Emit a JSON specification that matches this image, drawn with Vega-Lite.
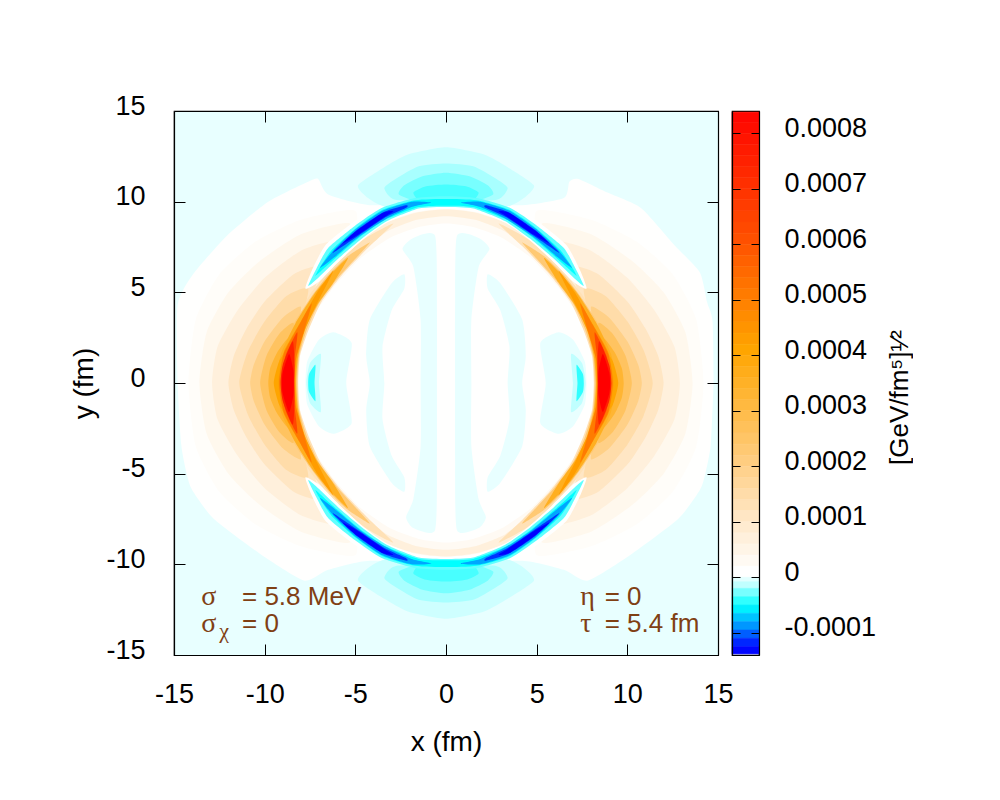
{
"$schema":"https://vega.github.io/schema/vega-lite/v6.json",
"background":"white",
"padding":{"left":69,"top":91,"right":0,"bottom":0},
"bounds":"flush",
"spacing":14,
"config":{"font":"Liberation Sans","view":{"stroke":"black","strokeWidth":1.2},"axis":{"grid":false,"labelFont":"Liberation Sans","titleFont":"Liberation Sans","labelColor":"black","titleColor":"black","titleFontWeight":"normal","domainColor":"black","tickColor":"black"}},
"datasets":{
"levels":[{"c":1,"v":0.000002},{"c":2,"v":-0.000006},{"c":3,"v":-0.000006},{"c":4,"v":-0.000006},{"c":5,"v":-0.000006},{"c":6,"v":-0.000006},{"c":7,"v":-0.000006},{"c":8,"v":-0.00002},{"c":9,"v":-0.00002},{"c":10,"v":-0.00005},{"c":11,"v":-0.00005},
{"c":12,"v":0.00001},{"c":13,"v":0.00001},{"c":14,"v":0.00002},{"c":15,"v":0.00002},{"c":16,"v":0.00003},{"c":17,"v":0.00003},{"c":18,"v":0.00006},{"c":19,"v":0.00006},{"c":20,"v":0.00006},{"c":21,"v":0.00006},{"c":22,"v":0.0001},{"c":23,"v":0.0001},{"c":24,"v":0.00012},{"c":25,"v":0.00012},{"c":26,"v":0.00014},{"c":27,"v":0.00014},{"c":28,"v":0.00019},{"c":29,"v":0.00019},{"c":30,"v":0.00022},{"c":31,"v":0.00022},{"c":32,"v":0.00025},{"c":33,"v":0.00025},{"c":34,"v":0.00032},{"c":35,"v":0.00032},{"c":36,"v":0.00035},{"c":37,"v":0.00035},{"c":38,"v":0.0004},{"c":39,"v":0.0004},{"c":40,"v":0.00042},{"c":41,"v":0.00042},{"c":42,"v":0.0005},{"c":43,"v":0.0005},{"c":44,"v":0.00062},{"c":45,"v":0.00062},{"c":46,"v":0.00074},{"c":47,"v":0.00074},{"c":48,"v":0.00084},{"c":49,"v":0.00084},
{"c":50,"v":0},{"c":51,"v":0},{"c":52,"v":-0.000015},{"c":53,"v":-0.000015},{"c":54,"v":-0.000025},{"c":55,"v":-0.000025},{"c":56,"v":-0.000035},{"c":57,"v":-0.000035},{"c":58,"v":-0.000045},{"c":59,"v":-0.000045},{"c":60,"v":-0.00004},{"c":61,"v":-0.00004},{"c":62,"v":-0.00006},{"c":63,"v":-0.00006},{"c":64,"v":-0.00009},{"c":65,"v":-0.00009},{"c":66,"v":-0.00009},{"c":67,"v":-0.00009},{"c":68,"v":-0.00012},{"c":69,"v":-0.00012},{"c":70,"v":-0.00012},{"c":71,"v":-0.00012},{"c":72,"v":-0.00014},{"c":73,"v":-0.00014},{"c":74,"v":-0.00014},{"c":75,"v":-0.00014}],
"contours":[
{"c":1,"x":0,"y":10},{"c":1,"x":4.1,"y":9.8},{"c":1,"x":6.5,"y":10.2},{"c":1,"x":6.8,"y":11.1},{"c":1,"x":7.3,"y":11.25},{"c":1,"x":8.9,"y":10.5},{"c":1,"x":10.75,"y":9.65},{"c":1,"x":12.6,"y":7.6},{"c":1,"x":14,"y":6.1},{"c":1,"x":14.4,"y":4.45},{"c":1,"x":14.7,"y":3.4},{"c":1,"x":14.75,"y":0},{"c":1,"x":14.6,"y":-3.4},{"c":1,"x":14.3,"y":-5},{"c":1,"x":14,"y":-5.9},{"c":1,"x":12.8,"y":-7.5},{"c":1,"x":10,"y":-9.6},{"c":1,"x":7.8,"y":-10.9},{"c":1,"x":6.5,"y":-10.3},{"c":1,"x":4.2,"y":-9.8},{"c":1,"x":0,"y":-10},{"c":1,"x":-4.2,"y":-9.8},{"c":1,"x":-6.5,"y":-10.3},{"c":1,"x":-7.8,"y":-10.9},{"c":1,"x":-10,"y":-9.6},{"c":1,"x":-12.8,"y":-7.5},{"c":1,"x":-14,"y":-5.9},{"c":1,"x":-14.3,"y":-5},{"c":1,"x":-14.6,"y":-3.4},{"c":1,"x":-14.8,"y":0},{"c":1,"x":-14.8,"y":4.3},{"c":1,"x":-13.95,"y":6},{"c":1,"x":-12,"y":8.2},{"c":1,"x":-9.8,"y":10},{"c":1,"x":-7.6,"y":11.1},{"c":1,"x":-7.05,"y":11.25},{"c":1,"x":-6.5,"y":10.4},{"c":1,"x":-4.1,"y":9.8},
{"c":2,"x":0.6,"y":8.1},{"c":2,"x":1.8,"y":8},{"c":2,"x":2.4,"y":7.4},{"c":2,"x":1.8,"y":6.4},{"c":2,"x":1.4,"y":3.5},{"c":2,"x":1.4,"y":0},{"c":2,"x":1.4,"y":-3.5},{"c":2,"x":1.8,"y":-6.4},{"c":2,"x":2.2,"y":-7.4},{"c":2,"x":1.8,"y":-8},{"c":2,"x":0.6,"y":-8.1},{"c":2,"x":0.5,"y":-4},{"c":2,"x":0.5,"y":0},{"c":2,"x":0.5,"y":4},
{"c":3,"x":-0.6,"y":8.1},{"c":3,"x":-1.8,"y":8},{"c":3,"x":-2.4,"y":7.4},{"c":3,"x":-1.8,"y":6.4},{"c":3,"x":-1.4,"y":3.5},{"c":3,"x":-1.4,"y":0},{"c":3,"x":-1.4,"y":-3.5},{"c":3,"x":-1.8,"y":-6.4},{"c":3,"x":-2.2,"y":-7.4},{"c":3,"x":-1.8,"y":-8},{"c":3,"x":-0.6,"y":-8.1},{"c":3,"x":-0.5,"y":-4},{"c":3,"x":-0.5,"y":0},{"c":3,"x":-0.5,"y":4},
{"c":4,"x":2.3,"y":6},{"c":4,"x":3,"y":5.5},{"c":4,"x":4.2,"y":3.5},{"c":4,"x":4.4,"y":1.5},{"c":4,"x":4.2,"y":0},{"c":4,"x":4.4,"y":-1.5},{"c":4,"x":4.2,"y":-3.5},{"c":4,"x":3,"y":-5.5},{"c":4,"x":2.3,"y":-6},{"c":4,"x":2.3,"y":-5.2},{"c":4,"x":3,"y":-4},{"c":4,"x":3.5,"y":-2},{"c":4,"x":3.4,"y":0},{"c":4,"x":3.5,"y":2},{"c":4,"x":3,"y":4},{"c":4,"x":2.3,"y":5.2},
{"c":5,"x":-2.3,"y":6},{"c":5,"x":-3,"y":5.5},{"c":5,"x":-4.2,"y":3.5},{"c":5,"x":-4.4,"y":1.5},{"c":5,"x":-4.2,"y":0},{"c":5,"x":-4.4,"y":-1.5},{"c":5,"x":-4.2,"y":-3.5},{"c":5,"x":-3,"y":-5.5},{"c":5,"x":-2.3,"y":-6},{"c":5,"x":-2.3,"y":-5.2},{"c":5,"x":-3,"y":-4},{"c":5,"x":-3.5,"y":-2},{"c":5,"x":-3.4,"y":0},{"c":5,"x":-3.5,"y":2},{"c":5,"x":-3,"y":4},{"c":5,"x":-2.3,"y":5.2},
{"c":6,"x":5.2,"y":2.2},{"c":6,"x":6.2,"y":2.8},{"c":6,"x":7,"y":2.4},{"c":6,"x":7.65,"y":1.2},{"c":6,"x":7.75,"y":0},{"c":6,"x":7.65,"y":-1.2},{"c":6,"x":7,"y":-2.4},{"c":6,"x":6.2,"y":-2.8},{"c":6,"x":5.2,"y":-2.2},{"c":6,"x":5.5,"y":0},
{"c":7,"x":-5.2,"y":2.2},{"c":7,"x":-6.2,"y":2.8},{"c":7,"x":-7,"y":2.4},{"c":7,"x":-7.65,"y":1.2},{"c":7,"x":-7.75,"y":0},{"c":7,"x":-7.65,"y":-1.2},{"c":7,"x":-7,"y":-2.4},{"c":7,"x":-6.2,"y":-2.8},{"c":7,"x":-5.2,"y":-2.2},{"c":7,"x":-5.5,"y":0},
{"c":8,"x":6.9,"y":1.6},{"c":8,"x":7.5,"y":1.1},{"c":8,"x":7.7,"y":0},{"c":8,"x":7.5,"y":-1.1},{"c":8,"x":6.9,"y":-1.6},{"c":8,"x":7,"y":0},
{"c":9,"x":-6.9,"y":1.6},{"c":9,"x":-7.5,"y":1.1},{"c":9,"x":-7.7,"y":0},{"c":9,"x":-7.5,"y":-1.1},{"c":9,"x":-6.9,"y":-1.6},{"c":9,"x":-7,"y":0},
{"c":10,"x":7.2,"y":1},{"c":10,"x":7.55,"y":0.5},{"c":10,"x":7.6,"y":0},{"c":10,"x":7.55,"y":-0.5},{"c":10,"x":7.2,"y":-1},{"c":10,"x":7.25,"y":0},
{"c":11,"x":-7.2,"y":1},{"c":11,"x":-7.55,"y":0.5},{"c":11,"x":-7.6,"y":0},{"c":11,"x":-7.55,"y":-0.5},{"c":11,"x":-7.2,"y":-1},{"c":11,"x":-7.25,"y":0},
{"c":12,"x":5,"y":9.5},{"c":12,"x":8,"y":9},{"c":12,"x":10.5,"y":7.8},{"c":12,"x":12.5,"y":6},{"c":12,"x":13.8,"y":3.5},{"c":12,"x":14.2,"y":0},{"c":12,"x":13.8,"y":-3.5},{"c":12,"x":12.5,"y":-6},{"c":12,"x":10.5,"y":-7.8},{"c":12,"x":8,"y":-9},{"c":12,"x":5,"y":-9.5},{"c":12,"x":5.2,"y":-7.2},{"c":12,"x":6.7,"y":-5.6},{"c":12,"x":8.05,"y":-3.1},{"c":12,"x":8.7,"y":0},{"c":12,"x":8.05,"y":3.1},{"c":12,"x":6.7,"y":5.6},{"c":12,"x":5.2,"y":7.2},
{"c":13,"x":-5,"y":9.5},{"c":13,"x":-8,"y":9},{"c":13,"x":-10.5,"y":7.8},{"c":13,"x":-12.5,"y":6},{"c":13,"x":-13.8,"y":3.5},{"c":13,"x":-14.2,"y":0},{"c":13,"x":-13.8,"y":-3.5},{"c":13,"x":-12.5,"y":-6},{"c":13,"x":-10.5,"y":-7.8},{"c":13,"x":-8,"y":-9},{"c":13,"x":-5,"y":-9.5},{"c":13,"x":-5.2,"y":-7.2},{"c":13,"x":-6.7,"y":-5.6},{"c":13,"x":-8.05,"y":-3.1},{"c":13,"x":-8.7,"y":0},{"c":13,"x":-8.05,"y":3.1},{"c":13,"x":-6.7,"y":5.6},{"c":13,"x":-5.2,"y":7.2},
{"c":14,"x":0,"y":9.6},{"c":14,"x":1.7,"y":9.42},{"c":14,"x":3.5,"y":8.8},{"c":14,"x":5.1,"y":7.6},{"c":14,"x":6.6,"y":6},{"c":14,"x":7.6,"y":4.6},{"c":14,"x":7.7,"y":4},{"c":14,"x":7,"y":4.2},{"c":14,"x":6.1,"y":5.4},{"c":14,"x":4.7,"y":6.9},{"c":14,"x":3.1,"y":8},{"c":14,"x":1.5,"y":8.6},{"c":14,"x":0,"y":8.8},{"c":14,"x":-1.5,"y":8.6},{"c":14,"x":-3.1,"y":8},{"c":14,"x":-4.7,"y":6.9},{"c":14,"x":-6.1,"y":5.4},{"c":14,"x":-7,"y":4.2},{"c":14,"x":-7.7,"y":4},{"c":14,"x":-7.6,"y":4.6},{"c":14,"x":-6.6,"y":6},{"c":14,"x":-5.1,"y":7.6},{"c":14,"x":-3.5,"y":8.8},{"c":14,"x":-1.7,"y":9.42},
{"c":15,"x":0,"y":-9.6},{"c":15,"x":1.7,"y":-9.42},{"c":15,"x":3.5,"y":-8.8},{"c":15,"x":5.1,"y":-7.6},{"c":15,"x":6.6,"y":-6},{"c":15,"x":7.6,"y":-4.6},{"c":15,"x":7.7,"y":-4},{"c":15,"x":7,"y":-4.2},{"c":15,"x":6.1,"y":-5.4},{"c":15,"x":4.7,"y":-6.9},{"c":15,"x":3.1,"y":-8},{"c":15,"x":1.5,"y":-8.6},{"c":15,"x":0,"y":-8.8},{"c":15,"x":-1.5,"y":-8.6},{"c":15,"x":-3.1,"y":-8},{"c":15,"x":-4.7,"y":-6.9},{"c":15,"x":-6.1,"y":-5.4},{"c":15,"x":-7,"y":-4.2},{"c":15,"x":-7.7,"y":-4},{"c":15,"x":-7.6,"y":-4.6},{"c":15,"x":-6.6,"y":-6},{"c":15,"x":-5.1,"y":-7.6},{"c":15,"x":-3.5,"y":-8.8},{"c":15,"x":-1.7,"y":-9.42},
{"c":16,"x":5.3,"y":8.8},{"c":16,"x":8,"y":8.2},{"c":16,"x":10.3,"y":6.7},{"c":16,"x":12,"y":5},{"c":16,"x":13.2,"y":2.8},{"c":16,"x":13.6,"y":0},{"c":16,"x":13.2,"y":-2.8},{"c":16,"x":12,"y":-5},{"c":16,"x":10.3,"y":-6.7},{"c":16,"x":8,"y":-8.2},{"c":16,"x":5.3,"y":-8.8},{"c":16,"x":5.6,"y":-6.9},{"c":16,"x":6.9,"y":-5.4},{"c":16,"x":8.05,"y":-3.1},{"c":16,"x":8.7,"y":0},{"c":16,"x":8.05,"y":3.1},{"c":16,"x":6.9,"y":5.4},{"c":16,"x":5.6,"y":6.9},
{"c":17,"x":-5.3,"y":8.8},{"c":17,"x":-8,"y":8.2},{"c":17,"x":-10.3,"y":6.7},{"c":17,"x":-12,"y":5},{"c":17,"x":-13.2,"y":2.8},{"c":17,"x":-13.6,"y":0},{"c":17,"x":-13.2,"y":-2.8},{"c":17,"x":-12,"y":-5},{"c":17,"x":-10.3,"y":-6.7},{"c":17,"x":-8,"y":-8.2},{"c":17,"x":-5.3,"y":-8.8},{"c":17,"x":-5.6,"y":-6.9},{"c":17,"x":-6.9,"y":-5.4},{"c":17,"x":-8.05,"y":-3.1},{"c":17,"x":-8.7,"y":0},{"c":17,"x":-8.05,"y":3.1},{"c":17,"x":-6.9,"y":5.4},{"c":17,"x":-5.6,"y":6.9},
{"c":18,"x":0,"y":9.58},{"c":18,"x":1.7,"y":9.38},{"c":18,"x":3.5,"y":8.75},{"c":18,"x":5,"y":7.5},{"c":18,"x":6.4,"y":6},{"c":18,"x":7.3,"y":4.7},{"c":18,"x":6.9,"y":4.6},{"c":18,"x":6,"y":5.9},{"c":18,"x":4.8,"y":7.1},{"c":18,"x":3.25,"y":8.35},{"c":18,"x":1.6,"y":9},{"c":18,"x":0,"y":9.2},{"c":18,"x":-1.6,"y":9},{"c":18,"x":-3.25,"y":8.35},{"c":18,"x":-4.8,"y":7.1},{"c":18,"x":-6,"y":5.9},{"c":18,"x":-6.9,"y":4.6},{"c":18,"x":-7.3,"y":4.7},{"c":18,"x":-6.4,"y":6},{"c":18,"x":-5,"y":7.5},{"c":18,"x":-3.5,"y":8.75},{"c":18,"x":-1.7,"y":9.38},
{"c":19,"x":0,"y":-9.58},{"c":19,"x":1.7,"y":-9.38},{"c":19,"x":3.5,"y":-8.75},{"c":19,"x":5,"y":-7.5},{"c":19,"x":6.4,"y":-6},{"c":19,"x":7.3,"y":-4.7},{"c":19,"x":6.9,"y":-4.6},{"c":19,"x":6,"y":-5.9},{"c":19,"x":4.8,"y":-7.1},{"c":19,"x":3.25,"y":-8.35},{"c":19,"x":1.6,"y":-9},{"c":19,"x":0,"y":-9.2},{"c":19,"x":-1.6,"y":-9},{"c":19,"x":-3.25,"y":-8.35},{"c":19,"x":-4.8,"y":-7.1},{"c":19,"x":-6,"y":-5.9},{"c":19,"x":-6.9,"y":-4.6},{"c":19,"x":-7.3,"y":-4.7},{"c":19,"x":-6.4,"y":-6},{"c":19,"x":-5,"y":-7.5},{"c":19,"x":-3.5,"y":-8.75},{"c":19,"x":-1.7,"y":-9.38},
{"c":20,"x":6,"y":7.8},{"c":20,"x":8,"y":7.3},{"c":20,"x":10,"y":5.8},{"c":20,"x":11.5,"y":4},{"c":20,"x":12.6,"y":2},{"c":20,"x":12.9,"y":0},{"c":20,"x":12.6,"y":-2},{"c":20,"x":11.5,"y":-4},{"c":20,"x":10,"y":-5.8},{"c":20,"x":8,"y":-7.3},{"c":20,"x":6,"y":-7.8},{"c":20,"x":6.4,"y":-6},{"c":20,"x":7.2,"y":-4.8},{"c":20,"x":8.05,"y":-3.1},{"c":20,"x":8.7,"y":0},{"c":20,"x":8.05,"y":3.1},{"c":20,"x":7.2,"y":4.8},{"c":20,"x":6.4,"y":6},
{"c":21,"x":-6,"y":7.8},{"c":21,"x":-8,"y":7.3},{"c":21,"x":-10,"y":5.8},{"c":21,"x":-11.5,"y":4},{"c":21,"x":-12.6,"y":2},{"c":21,"x":-12.9,"y":0},{"c":21,"x":-12.6,"y":-2},{"c":21,"x":-11.5,"y":-4},{"c":21,"x":-10,"y":-5.8},{"c":21,"x":-8,"y":-7.3},{"c":21,"x":-6,"y":-7.8},{"c":21,"x":-6.4,"y":-6},{"c":21,"x":-7.2,"y":-4.8},{"c":21,"x":-8.05,"y":-3.1},{"c":21,"x":-8.7,"y":0},{"c":21,"x":-8.05,"y":3.1},{"c":21,"x":-7.2,"y":4.8},{"c":21,"x":-6.4,"y":6},
{"c":22,"x":7,"y":6.4},{"c":22,"x":8.4,"y":6},{"c":22,"x":10,"y":4.5},{"c":22,"x":11,"y":3},{"c":22,"x":11.7,"y":1.5},{"c":22,"x":12,"y":0},{"c":22,"x":11.7,"y":-1.5},{"c":22,"x":11,"y":-3},{"c":22,"x":10,"y":-4.5},{"c":22,"x":8.4,"y":-6},{"c":22,"x":7,"y":-6.4},{"c":22,"x":7.4,"y":-4.6},{"c":22,"x":8.2,"y":-2.9},{"c":22,"x":8.7,"y":0},{"c":22,"x":8.2,"y":2.9},{"c":22,"x":7.4,"y":4.6},
{"c":23,"x":-7,"y":6.4},{"c":23,"x":-8.4,"y":6},{"c":23,"x":-10,"y":4.5},{"c":23,"x":-11,"y":3},{"c":23,"x":-11.7,"y":1.5},{"c":23,"x":-12,"y":0},{"c":23,"x":-11.7,"y":-1.5},{"c":23,"x":-11,"y":-3},{"c":23,"x":-10,"y":-4.5},{"c":23,"x":-8.4,"y":-6},{"c":23,"x":-7,"y":-6.4},{"c":23,"x":-7.4,"y":-4.6},{"c":23,"x":-8.2,"y":-2.9},{"c":23,"x":-8.7,"y":0},{"c":23,"x":-8.2,"y":2.9},{"c":23,"x":-7.4,"y":4.6},
{"c":24,"x":2.9,"y":8.8},{"c":24,"x":4.5,"y":7.95},{"c":24,"x":6.15,"y":6.5},{"c":24,"x":7.45,"y":4.95},{"c":24,"x":8.55,"y":3.1},{"c":24,"x":9.25,"y":1.5},{"c":24,"x":9.55,"y":0},{"c":24,"x":9.25,"y":-1.5},{"c":24,"x":8.55,"y":-3.1},{"c":24,"x":7.45,"y":-4.95},{"c":24,"x":6.15,"y":-6.5},{"c":24,"x":4.5,"y":-7.95},{"c":24,"x":2.9,"y":-8.8},{"c":24,"x":4.2,"y":-7.55},{"c":24,"x":5.7,"y":-6},{"c":24,"x":6.85,"y":-4.5},{"c":24,"x":7.55,"y":-3},{"c":24,"x":8.05,"y":-1.5},{"c":24,"x":8.15,"y":0},{"c":24,"x":8.05,"y":1.5},{"c":24,"x":7.55,"y":3},{"c":24,"x":6.85,"y":4.5},{"c":24,"x":5.7,"y":6},{"c":24,"x":4.2,"y":7.55},
{"c":25,"x":-2.9,"y":8.8},{"c":25,"x":-4.5,"y":7.95},{"c":25,"x":-6.15,"y":6.5},{"c":25,"x":-7.45,"y":4.95},{"c":25,"x":-8.55,"y":3.1},{"c":25,"x":-9.25,"y":1.5},{"c":25,"x":-9.55,"y":0},{"c":25,"x":-9.25,"y":-1.5},{"c":25,"x":-8.55,"y":-3.1},{"c":25,"x":-7.45,"y":-4.95},{"c":25,"x":-6.15,"y":-6.5},{"c":25,"x":-4.5,"y":-7.95},{"c":25,"x":-2.9,"y":-8.8},{"c":25,"x":-4.2,"y":-7.55},{"c":25,"x":-5.7,"y":-6},{"c":25,"x":-6.85,"y":-4.5},{"c":25,"x":-7.55,"y":-3},{"c":25,"x":-8.05,"y":-1.5},{"c":25,"x":-8.15,"y":0},{"c":25,"x":-8.05,"y":1.5},{"c":25,"x":-7.55,"y":3},{"c":25,"x":-6.85,"y":4.5},{"c":25,"x":-5.7,"y":6},{"c":25,"x":-4.2,"y":7.55},
{"c":26,"x":7.6,"y":5.2},{"c":26,"x":8.8,"y":4.8},{"c":26,"x":10,"y":3.4},{"c":26,"x":10.9,"y":1.8},{"c":26,"x":11.4,"y":0},{"c":26,"x":10.9,"y":-1.8},{"c":26,"x":10,"y":-3.4},{"c":26,"x":8.8,"y":-4.8},{"c":26,"x":7.6,"y":-5.2},{"c":26,"x":8.05,"y":-3.1},{"c":26,"x":8.7,"y":0},{"c":26,"x":8.05,"y":3.1},
{"c":27,"x":-7.6,"y":5.2},{"c":27,"x":-8.8,"y":4.8},{"c":27,"x":-10,"y":3.4},{"c":27,"x":-10.9,"y":1.8},{"c":27,"x":-11.4,"y":0},{"c":27,"x":-10.9,"y":-1.8},{"c":27,"x":-10,"y":-3.4},{"c":27,"x":-8.8,"y":-4.8},{"c":27,"x":-7.6,"y":-5.2},{"c":27,"x":-8.05,"y":-3.1},{"c":27,"x":-8.7,"y":0},{"c":27,"x":-8.05,"y":3.1},
{"c":28,"x":8,"y":4.2},{"c":28,"x":9,"y":3.6},{"c":28,"x":10,"y":2.3},{"c":28,"x":10.6,"y":1},{"c":28,"x":10.8,"y":0},{"c":28,"x":10.6,"y":-1},{"c":28,"x":10,"y":-2.3},{"c":28,"x":9,"y":-3.6},{"c":28,"x":8,"y":-4.2},{"c":28,"x":8.3,"y":-2.5},{"c":28,"x":8.7,"y":0},{"c":28,"x":8.3,"y":2.5},
{"c":29,"x":-8,"y":4.2},{"c":29,"x":-9,"y":3.6},{"c":29,"x":-10,"y":2.3},{"c":29,"x":-10.6,"y":1},{"c":29,"x":-10.8,"y":0},{"c":29,"x":-10.6,"y":-1},{"c":29,"x":-10,"y":-2.3},{"c":29,"x":-9,"y":-3.6},{"c":29,"x":-8,"y":-4.2},{"c":29,"x":-8.3,"y":-2.5},{"c":29,"x":-8.7,"y":0},{"c":29,"x":-8.3,"y":2.5},
{"c":30,"x":4.2,"y":7.75},{"c":30,"x":5.4,"y":7},{"c":30,"x":6.5,"y":5.95},{"c":30,"x":7.5,"y":4.65},{"c":30,"x":8.5,"y":3.1},{"c":30,"x":9.2,"y":1.5},{"c":30,"x":9.45,"y":0},{"c":30,"x":9.2,"y":-1.5},{"c":30,"x":8.5,"y":-3.1},{"c":30,"x":7.5,"y":-4.65},{"c":30,"x":6.5,"y":-5.95},{"c":30,"x":5.4,"y":-7},{"c":30,"x":4.2,"y":-7.75},{"c":30,"x":5,"y":-6.85},{"c":30,"x":6,"y":-5.75},{"c":30,"x":7,"y":-4.4},{"c":30,"x":7.65,"y":-3},{"c":30,"x":8.1,"y":-1.5},{"c":30,"x":8.2,"y":0},{"c":30,"x":8.1,"y":1.5},{"c":30,"x":7.65,"y":3},{"c":30,"x":7,"y":4.4},{"c":30,"x":6,"y":5.75},{"c":30,"x":5,"y":6.85},
{"c":31,"x":-4.2,"y":7.75},{"c":31,"x":-5.4,"y":7},{"c":31,"x":-6.5,"y":5.95},{"c":31,"x":-7.5,"y":4.65},{"c":31,"x":-8.5,"y":3.1},{"c":31,"x":-9.2,"y":1.5},{"c":31,"x":-9.45,"y":0},{"c":31,"x":-9.2,"y":-1.5},{"c":31,"x":-8.5,"y":-3.1},{"c":31,"x":-7.5,"y":-4.65},{"c":31,"x":-6.5,"y":-5.95},{"c":31,"x":-5.4,"y":-7},{"c":31,"x":-4.2,"y":-7.75},{"c":31,"x":-5,"y":-6.85},{"c":31,"x":-6,"y":-5.75},{"c":31,"x":-7,"y":-4.4},{"c":31,"x":-7.65,"y":-3},{"c":31,"x":-8.1,"y":-1.5},{"c":31,"x":-8.2,"y":0},{"c":31,"x":-8.1,"y":1.5},{"c":31,"x":-7.65,"y":3},{"c":31,"x":-7,"y":4.4},{"c":31,"x":-6,"y":5.75},{"c":31,"x":-5,"y":6.85},
{"c":32,"x":8.4,"y":3.3},{"c":32,"x":9.2,"y":2.7},{"c":32,"x":9.9,"y":1.5},{"c":32,"x":10.25,"y":0},{"c":32,"x":9.9,"y":-1.5},{"c":32,"x":9.2,"y":-2.7},{"c":32,"x":8.4,"y":-3.3},{"c":32,"x":8.6,"y":-1.5},{"c":32,"x":8.7,"y":0},{"c":32,"x":8.6,"y":1.5},
{"c":33,"x":-8.4,"y":3.3},{"c":33,"x":-9.2,"y":2.7},{"c":33,"x":-9.9,"y":1.5},{"c":33,"x":-10.25,"y":0},{"c":33,"x":-9.9,"y":-1.5},{"c":33,"x":-9.2,"y":-2.7},{"c":33,"x":-8.4,"y":-3.3},{"c":33,"x":-8.6,"y":-1.5},{"c":33,"x":-8.7,"y":0},{"c":33,"x":-8.6,"y":1.5},
{"c":34,"x":8.6,"y":2.5},{"c":34,"x":9.3,"y":1.7},{"c":34,"x":9.7,"y":0.8},{"c":34,"x":9.8,"y":0},{"c":34,"x":9.7,"y":-0.8},{"c":34,"x":9.3,"y":-1.7},{"c":34,"x":8.6,"y":-2.5},{"c":34,"x":8.7,"y":0},
{"c":35,"x":-8.6,"y":2.5},{"c":35,"x":-9.3,"y":1.7},{"c":35,"x":-9.7,"y":0.8},{"c":35,"x":-9.8,"y":0},{"c":35,"x":-9.7,"y":-0.8},{"c":35,"x":-9.3,"y":-1.7},{"c":35,"x":-8.6,"y":-2.5},{"c":35,"x":-8.7,"y":0},
{"c":36,"x":5.4,"y":6.9},{"c":36,"x":6.4,"y":5.95},{"c":36,"x":7.3,"y":4.85},{"c":36,"x":8.3,"y":3.3},{"c":36,"x":9.1,"y":1.6},{"c":36,"x":9.35,"y":0},{"c":36,"x":9.1,"y":-1.6},{"c":36,"x":8.3,"y":-3.3},{"c":36,"x":7.3,"y":-4.85},{"c":36,"x":6.4,"y":-5.95},{"c":36,"x":5.4,"y":-6.9},{"c":36,"x":6.2,"y":-5.55},{"c":36,"x":7.1,"y":-4.3},{"c":36,"x":7.75,"y":-3},{"c":36,"x":8.15,"y":-1.5},{"c":36,"x":8.27,"y":0},{"c":36,"x":8.15,"y":1.5},{"c":36,"x":7.75,"y":3},{"c":36,"x":7.1,"y":4.3},{"c":36,"x":6.2,"y":5.55},
{"c":37,"x":-5.4,"y":6.9},{"c":37,"x":-6.4,"y":5.95},{"c":37,"x":-7.3,"y":4.85},{"c":37,"x":-8.3,"y":3.3},{"c":37,"x":-9.1,"y":1.6},{"c":37,"x":-9.35,"y":0},{"c":37,"x":-9.1,"y":-1.6},{"c":37,"x":-8.3,"y":-3.3},{"c":37,"x":-7.3,"y":-4.85},{"c":37,"x":-6.4,"y":-5.95},{"c":37,"x":-5.4,"y":-6.9},{"c":37,"x":-6.2,"y":-5.55},{"c":37,"x":-7.1,"y":-4.3},{"c":37,"x":-7.75,"y":-3},{"c":37,"x":-8.15,"y":-1.5},{"c":37,"x":-8.27,"y":0},{"c":37,"x":-8.15,"y":1.5},{"c":37,"x":-7.75,"y":3},{"c":37,"x":-7.1,"y":4.3},{"c":37,"x":-6.2,"y":5.55},
{"c":38,"x":8.7,"y":1.8},{"c":38,"x":9.2,"y":1.2},{"c":38,"x":9.5,"y":0},{"c":38,"x":9.2,"y":-1.2},{"c":38,"x":8.7,"y":-1.8},{"c":38,"x":8.7,"y":0},
{"c":39,"x":-8.7,"y":1.8},{"c":39,"x":-9.2,"y":1.2},{"c":39,"x":-9.5,"y":0},{"c":39,"x":-9.2,"y":-1.2},{"c":39,"x":-8.7,"y":-1.8},{"c":39,"x":-8.7,"y":0},
{"c":40,"x":6.2,"y":6.2},{"c":40,"x":7.1,"y":5},{"c":40,"x":8,"y":3.4},{"c":40,"x":8.95,"y":1.7},{"c":40,"x":9.25,"y":0},{"c":40,"x":8.95,"y":-1.7},{"c":40,"x":8,"y":-3.4},{"c":40,"x":7.1,"y":-5},{"c":40,"x":6.2,"y":-6.2},{"c":40,"x":7.2,"y":-4.2},{"c":40,"x":7.8,"y":-2.9},{"c":40,"x":8.22,"y":-1.5},{"c":40,"x":8.32,"y":0},{"c":40,"x":8.22,"y":1.5},{"c":40,"x":7.8,"y":2.9},{"c":40,"x":7.2,"y":4.2},
{"c":41,"x":-6.2,"y":6.2},{"c":41,"x":-7.1,"y":5},{"c":41,"x":-8,"y":3.4},{"c":41,"x":-8.95,"y":1.7},{"c":41,"x":-9.25,"y":0},{"c":41,"x":-8.95,"y":-1.7},{"c":41,"x":-8,"y":-3.4},{"c":41,"x":-7.1,"y":-5},{"c":41,"x":-6.2,"y":-6.2},{"c":41,"x":-7.2,"y":-4.2},{"c":41,"x":-7.8,"y":-2.9},{"c":41,"x":-8.22,"y":-1.5},{"c":41,"x":-8.32,"y":0},{"c":41,"x":-8.22,"y":1.5},{"c":41,"x":-7.8,"y":2.9},{"c":41,"x":-7.2,"y":4.2},
{"c":42,"x":7.4,"y":4.4},{"c":42,"x":8.1,"y":3.2},{"c":42,"x":8.95,"y":1.6},{"c":42,"x":9.2,"y":0},{"c":42,"x":8.95,"y":-1.6},{"c":42,"x":8.1,"y":-3.2},{"c":42,"x":7.4,"y":-4.4},{"c":42,"x":7.85,"y":-2.8},{"c":42,"x":8.28,"y":-1.3},{"c":42,"x":8.38,"y":0},{"c":42,"x":8.28,"y":1.3},{"c":42,"x":7.85,"y":2.8},
{"c":43,"x":-7.4,"y":4.4},{"c":43,"x":-8.1,"y":3.2},{"c":43,"x":-8.95,"y":1.6},{"c":43,"x":-9.2,"y":0},{"c":43,"x":-8.95,"y":-1.6},{"c":43,"x":-8.1,"y":-3.2},{"c":43,"x":-7.4,"y":-4.4},{"c":43,"x":-7.85,"y":-2.8},{"c":43,"x":-8.28,"y":-1.3},{"c":43,"x":-8.38,"y":0},{"c":43,"x":-8.28,"y":1.3},{"c":43,"x":-7.85,"y":2.8},
{"c":44,"x":8.2,"y":2.8},{"c":44,"x":8.85,"y":1.5},{"c":44,"x":9.1,"y":0},{"c":44,"x":8.85,"y":-1.5},{"c":44,"x":8.2,"y":-2.8},{"c":44,"x":8.35,"y":-1.3},{"c":44,"x":8.43,"y":0},{"c":44,"x":8.35,"y":1.3},
{"c":45,"x":-8.2,"y":2.8},{"c":45,"x":-8.85,"y":1.5},{"c":45,"x":-9.1,"y":0},{"c":45,"x":-8.85,"y":-1.5},{"c":45,"x":-8.2,"y":-2.8},{"c":45,"x":-8.35,"y":-1.3},{"c":45,"x":-8.43,"y":0},{"c":45,"x":-8.35,"y":1.3},
{"c":46,"x":8.45,"y":2.3},{"c":46,"x":9,"y":1},{"c":46,"x":9.12,"y":0},{"c":46,"x":9,"y":-1},{"c":46,"x":8.45,"y":-2.3},{"c":46,"x":8.35,"y":-1},{"c":46,"x":8.36,"y":0},{"c":46,"x":8.35,"y":1},
{"c":47,"x":-8.45,"y":2.3},{"c":47,"x":-9,"y":1},{"c":47,"x":-9.12,"y":0},{"c":47,"x":-9,"y":-1},{"c":47,"x":-8.45,"y":-2.3},{"c":47,"x":-8.35,"y":-1},{"c":47,"x":-8.36,"y":0},{"c":47,"x":-8.35,"y":1},
{"c":48,"x":8.65,"y":1.6},{"c":48,"x":9,"y":0.6},{"c":48,"x":9.05,"y":0},{"c":48,"x":9,"y":-0.6},{"c":48,"x":8.65,"y":-1.6},{"c":48,"x":8.42,"y":-0.7},{"c":48,"x":8.4,"y":0},{"c":48,"x":8.42,"y":0.7},
{"c":49,"x":-8.65,"y":1.6},{"c":49,"x":-9,"y":0.6},{"c":49,"x":-9.05,"y":0},{"c":49,"x":-9,"y":-0.6},{"c":49,"x":-8.65,"y":-1.6},{"c":49,"x":-8.42,"y":-0.7},{"c":49,"x":-8.4,"y":0},{"c":49,"x":-8.42,"y":0.7},
{"c":50,"x":0,"y":10},{"c":50,"x":1.5,"y":10.3},{"c":50,"x":3.6,"y":9.8},{"c":50,"x":5.2,"y":8.8},{"c":50,"x":6.65,"y":7.6},{"c":50,"x":7.4,"y":6.2},{"c":50,"x":7.75,"y":5.2},{"c":50,"x":7,"y":5.6},{"c":50,"x":5.85,"y":6.75},{"c":50,"x":4.6,"y":7.9},{"c":50,"x":3.25,"y":8.85},{"c":50,"x":1.5,"y":9.5},{"c":50,"x":0,"y":9.58},{"c":50,"x":-1.5,"y":9.5},{"c":50,"x":-3.25,"y":8.85},{"c":50,"x":-4.6,"y":7.9},{"c":50,"x":-5.85,"y":6.75},{"c":50,"x":-7,"y":5.6},{"c":50,"x":-7.75,"y":5.2},{"c":50,"x":-7.4,"y":6.2},{"c":50,"x":-6.65,"y":7.6},{"c":50,"x":-5.2,"y":8.8},{"c":50,"x":-3.6,"y":9.8},{"c":50,"x":-1.5,"y":10.3},
{"c":51,"x":0,"y":-10},{"c":51,"x":1.5,"y":-10.3},{"c":51,"x":3.6,"y":-9.8},{"c":51,"x":5.2,"y":-8.8},{"c":51,"x":6.65,"y":-7.6},{"c":51,"x":7.4,"y":-6.2},{"c":51,"x":7.75,"y":-5.2},{"c":51,"x":7,"y":-5.6},{"c":51,"x":5.85,"y":-6.75},{"c":51,"x":4.6,"y":-7.9},{"c":51,"x":3.25,"y":-8.85},{"c":51,"x":1.5,"y":-9.5},{"c":51,"x":0,"y":-9.58},{"c":51,"x":-1.5,"y":-9.5},{"c":51,"x":-3.25,"y":-8.85},{"c":51,"x":-4.6,"y":-7.9},{"c":51,"x":-5.85,"y":-6.75},{"c":51,"x":-7,"y":-5.6},{"c":51,"x":-7.75,"y":-5.2},{"c":51,"x":-7.4,"y":-6.2},{"c":51,"x":-6.65,"y":-7.6},{"c":51,"x":-5.2,"y":-8.8},{"c":51,"x":-3.6,"y":-9.8},{"c":51,"x":-1.5,"y":-10.3},
{"c":52,"x":0,"y":13},{"c":52,"x":2.1,"y":12.6},{"c":52,"x":3.4,"y":11.9},{"c":52,"x":4.85,"y":10.9},{"c":52,"x":4.3,"y":10.2},{"c":52,"x":3.2,"y":9.7},{"c":52,"x":0,"y":10},{"c":52,"x":-3.2,"y":9.7},{"c":52,"x":-4.3,"y":10.2},{"c":52,"x":-4.85,"y":10.9},{"c":52,"x":-3.4,"y":11.9},{"c":52,"x":-2.1,"y":12.6},
{"c":53,"x":0,"y":-13},{"c":53,"x":2.1,"y":-12.6},{"c":53,"x":3.4,"y":-11.9},{"c":53,"x":4.85,"y":-10.9},{"c":53,"x":4.3,"y":-10.2},{"c":53,"x":3.2,"y":-9.7},{"c":53,"x":0,"y":-10},{"c":53,"x":-3.2,"y":-9.7},{"c":53,"x":-4.3,"y":-10.2},{"c":53,"x":-4.85,"y":-10.9},{"c":53,"x":-3.4,"y":-11.9},{"c":53,"x":-2.1,"y":-12.6},
{"c":54,"x":0,"y":12.1},{"c":54,"x":1.5,"y":11.95},{"c":54,"x":2.7,"y":11.3},{"c":54,"x":3.4,"y":10.75},{"c":54,"x":2.8,"y":10.1},{"c":54,"x":0,"y":10},{"c":54,"x":-2.8,"y":10.1},{"c":54,"x":-3.4,"y":10.75},{"c":54,"x":-2.7,"y":11.3},{"c":54,"x":-1.5,"y":11.95},
{"c":55,"x":0,"y":-12.1},{"c":55,"x":1.5,"y":-11.95},{"c":55,"x":2.7,"y":-11.3},{"c":55,"x":3.4,"y":-10.75},{"c":55,"x":2.8,"y":-10.1},{"c":55,"x":0,"y":-10},{"c":55,"x":-2.8,"y":-10.1},{"c":55,"x":-3.4,"y":-10.75},{"c":55,"x":-2.7,"y":-11.3},{"c":55,"x":-1.5,"y":-11.95},
{"c":56,"x":0,"y":11.6},{"c":56,"x":1.3,"y":11.4},{"c":56,"x":2.3,"y":10.9},{"c":56,"x":2.6,"y":10.4},{"c":56,"x":1.5,"y":10},{"c":56,"x":0,"y":10},{"c":56,"x":-1.5,"y":10},{"c":56,"x":-2.6,"y":10.4},{"c":56,"x":-2.3,"y":10.9},{"c":56,"x":-1.3,"y":11.4},
{"c":57,"x":0,"y":-11.6},{"c":57,"x":1.3,"y":-11.4},{"c":57,"x":2.3,"y":-10.9},{"c":57,"x":2.6,"y":-10.4},{"c":57,"x":1.5,"y":-10},{"c":57,"x":0,"y":-10},{"c":57,"x":-1.5,"y":-10},{"c":57,"x":-2.6,"y":-10.4},{"c":57,"x":-2.3,"y":-10.9},{"c":57,"x":-1.3,"y":-11.4},
{"c":58,"x":0,"y":10.95},{"c":58,"x":1.1,"y":10.85},{"c":58,"x":1.8,"y":10.5},{"c":58,"x":1.4,"y":10},{"c":58,"x":0,"y":10},{"c":58,"x":-1.4,"y":10},{"c":58,"x":-1.8,"y":10.5},{"c":58,"x":-1.1,"y":10.85},
{"c":59,"x":0,"y":-10.95},{"c":59,"x":1.1,"y":-10.85},{"c":59,"x":1.8,"y":-10.5},{"c":59,"x":1.4,"y":-10},{"c":59,"x":0,"y":-10},{"c":59,"x":-1.4,"y":-10},{"c":59,"x":-1.8,"y":-10.5},{"c":59,"x":-1.1,"y":-10.85},
{"c":60,"x":0,"y":10.3},{"c":60,"x":1.7,"y":10.2},{"c":60,"x":3.55,"y":9.65},{"c":60,"x":5.05,"y":8.65},{"c":60,"x":6.5,"y":7.45},{"c":60,"x":7.15,"y":6.3},{"c":60,"x":7.6,"y":5.35},{"c":60,"x":7,"y":5.85},{"c":60,"x":5.95,"y":6.85},{"c":60,"x":4.65,"y":7.95},{"c":60,"x":3.25,"y":8.93},{"c":60,"x":1.5,"y":9.62},{"c":60,"x":0,"y":9.7},{"c":60,"x":-1.5,"y":9.62},{"c":60,"x":-3.25,"y":8.93},{"c":60,"x":-4.65,"y":7.95},{"c":60,"x":-5.95,"y":6.85},{"c":60,"x":-7,"y":5.85},{"c":60,"x":-7.6,"y":5.35},{"c":60,"x":-7.15,"y":6.3},{"c":60,"x":-6.5,"y":7.45},{"c":60,"x":-5.05,"y":8.65},{"c":60,"x":-3.55,"y":9.65},{"c":60,"x":-1.7,"y":10.2},
{"c":61,"x":0,"y":-10.3},{"c":61,"x":1.7,"y":-10.2},{"c":61,"x":3.55,"y":-9.65},{"c":61,"x":5.05,"y":-8.65},{"c":61,"x":6.5,"y":-7.45},{"c":61,"x":7.15,"y":-6.3},{"c":61,"x":7.6,"y":-5.35},{"c":61,"x":7,"y":-5.85},{"c":61,"x":5.95,"y":-6.85},{"c":61,"x":4.65,"y":-7.95},{"c":61,"x":3.25,"y":-8.93},{"c":61,"x":1.5,"y":-9.62},{"c":61,"x":0,"y":-9.7},{"c":61,"x":-1.5,"y":-9.62},{"c":61,"x":-3.25,"y":-8.93},{"c":61,"x":-4.65,"y":-7.95},{"c":61,"x":-5.95,"y":-6.85},{"c":61,"x":-7,"y":-5.85},{"c":61,"x":-7.6,"y":-5.35},{"c":61,"x":-7.15,"y":-6.3},{"c":61,"x":-6.5,"y":-7.45},{"c":61,"x":-5.05,"y":-8.65},{"c":61,"x":-3.55,"y":-9.65},{"c":61,"x":-1.7,"y":-10.2},
{"c":62,"x":0,"y":10.15},{"c":62,"x":1.7,"y":10.08},{"c":62,"x":3.5,"y":9.55},{"c":62,"x":4.95,"y":8.55},{"c":62,"x":6.3,"y":7.33},{"c":62,"x":7,"y":6.3},{"c":62,"x":7.2,"y":5.9},{"c":62,"x":6.7,"y":6.35},{"c":62,"x":6,"y":6.98},{"c":62,"x":4.75,"y":8.05},{"c":62,"x":3.35,"y":9},{"c":62,"x":1.5,"y":9.7},{"c":62,"x":0,"y":9.78},{"c":62,"x":-1.5,"y":9.7},{"c":62,"x":-3.35,"y":9},{"c":62,"x":-4.75,"y":8.05},{"c":62,"x":-6,"y":6.98},{"c":62,"x":-6.7,"y":6.35},{"c":62,"x":-7.2,"y":5.9},{"c":62,"x":-7,"y":6.3},{"c":62,"x":-6.3,"y":7.33},{"c":62,"x":-4.95,"y":8.55},{"c":62,"x":-3.5,"y":9.55},{"c":62,"x":-1.7,"y":10.08},
{"c":63,"x":0,"y":-10.15},{"c":63,"x":1.7,"y":-10.08},{"c":63,"x":3.5,"y":-9.55},{"c":63,"x":4.95,"y":-8.55},{"c":63,"x":6.3,"y":-7.33},{"c":63,"x":7,"y":-6.3},{"c":63,"x":7.2,"y":-5.9},{"c":63,"x":6.7,"y":-6.35},{"c":63,"x":6,"y":-6.98},{"c":63,"x":4.75,"y":-8.05},{"c":63,"x":3.35,"y":-9},{"c":63,"x":1.5,"y":-9.7},{"c":63,"x":0,"y":-9.78},{"c":63,"x":-1.5,"y":-9.7},{"c":63,"x":-3.35,"y":-9},{"c":63,"x":-4.75,"y":-8.05},{"c":63,"x":-6,"y":-6.98},{"c":63,"x":-6.7,"y":-6.35},{"c":63,"x":-7.2,"y":-5.9},{"c":63,"x":-7,"y":-6.3},{"c":63,"x":-6.3,"y":-7.33},{"c":63,"x":-4.95,"y":-8.55},{"c":63,"x":-3.5,"y":-9.55},{"c":63,"x":-1.7,"y":-10.08},
{"c":64,"x":0.8,"y":9.95},{"c":64,"x":1.9,"y":10},{"c":64,"x":3.5,"y":9.5},{"c":64,"x":4.95,"y":8.5},{"c":64,"x":6.2,"y":7.32},{"c":64,"x":6.95,"y":6.35},{"c":64,"x":6.1,"y":6.98},{"c":64,"x":4.75,"y":8.1},{"c":64,"x":3.35,"y":9.02},{"c":64,"x":1.9,"y":9.7},
{"c":65,"x":-0.8,"y":9.95},{"c":65,"x":-1.9,"y":10},{"c":65,"x":-3.5,"y":9.5},{"c":65,"x":-4.95,"y":8.5},{"c":65,"x":-6.2,"y":7.32},{"c":65,"x":-6.95,"y":6.35},{"c":65,"x":-6.1,"y":6.98},{"c":65,"x":-4.75,"y":8.1},{"c":65,"x":-3.35,"y":9.02},{"c":65,"x":-1.9,"y":9.7},
{"c":66,"x":0.8,"y":-9.95},{"c":66,"x":1.9,"y":-10},{"c":66,"x":3.5,"y":-9.5},{"c":66,"x":4.95,"y":-8.5},{"c":66,"x":6.2,"y":-7.32},{"c":66,"x":6.95,"y":-6.35},{"c":66,"x":6.1,"y":-6.98},{"c":66,"x":4.75,"y":-8.1},{"c":66,"x":3.35,"y":-9.02},{"c":66,"x":1.9,"y":-9.7},
{"c":67,"x":-0.8,"y":-9.95},{"c":67,"x":-1.9,"y":-10},{"c":67,"x":-3.5,"y":-9.5},{"c":67,"x":-4.95,"y":-8.5},{"c":67,"x":-6.2,"y":-7.32},{"c":67,"x":-6.95,"y":-6.35},{"c":67,"x":-6.1,"y":-6.98},{"c":67,"x":-4.75,"y":-8.1},{"c":67,"x":-3.35,"y":-9.02},{"c":67,"x":-1.9,"y":-9.7},
{"c":68,"x":2.2,"y":9.8},{"c":68,"x":3.45,"y":9.42},{"c":68,"x":4.9,"y":8.45},{"c":68,"x":6.05,"y":7.4},{"c":68,"x":6.2,"y":7.2},{"c":68,"x":4.8,"y":8.15},{"c":68,"x":3.4,"y":9.1},{"c":68,"x":2.2,"y":9.66},
{"c":69,"x":-2.2,"y":9.8},{"c":69,"x":-3.45,"y":9.42},{"c":69,"x":-4.9,"y":8.45},{"c":69,"x":-6.05,"y":7.4},{"c":69,"x":-6.2,"y":7.2},{"c":69,"x":-4.8,"y":8.15},{"c":69,"x":-3.4,"y":9.1},{"c":69,"x":-2.2,"y":9.66},
{"c":70,"x":2.2,"y":-9.8},{"c":70,"x":3.45,"y":-9.42},{"c":70,"x":4.9,"y":-8.45},{"c":70,"x":6.05,"y":-7.4},{"c":70,"x":6.2,"y":-7.2},{"c":70,"x":4.8,"y":-8.15},{"c":70,"x":3.4,"y":-9.1},{"c":70,"x":2.2,"y":-9.66},
{"c":71,"x":-2.2,"y":-9.8},{"c":71,"x":-3.45,"y":-9.42},{"c":71,"x":-4.9,"y":-8.45},{"c":71,"x":-6.05,"y":-7.4},{"c":71,"x":-6.2,"y":-7.2},{"c":71,"x":-4.8,"y":-8.15},{"c":71,"x":-3.4,"y":-9.1},{"c":71,"x":-2.2,"y":-9.66},
{"c":72,"x":2.9,"y":9.47},{"c":72,"x":3.5,"y":9.38},{"c":72,"x":4.9,"y":8.42},{"c":72,"x":5.7,"y":7.7},{"c":72,"x":4.8,"y":8.2},{"c":72,"x":3.4,"y":9.15},
{"c":73,"x":-2.9,"y":9.47},{"c":73,"x":-3.5,"y":9.38},{"c":73,"x":-4.9,"y":8.42},{"c":73,"x":-5.7,"y":7.7},{"c":73,"x":-4.8,"y":8.2},{"c":73,"x":-3.4,"y":9.15},
{"c":74,"x":2.9,"y":-9.47},{"c":74,"x":3.5,"y":-9.38},{"c":74,"x":4.9,"y":-8.42},{"c":74,"x":5.7,"y":-7.7},{"c":74,"x":4.8,"y":-8.2},{"c":74,"x":3.4,"y":-9.15},
{"c":75,"x":-2.9,"y":-9.47},{"c":75,"x":-3.5,"y":-9.38},{"c":75,"x":-4.9,"y":-8.42},{"c":75,"x":-5.7,"y":-7.7},{"c":75,"x":-4.8,"y":-8.2},{"c":75,"x":-3.4,"y":-9.15}
]},
"hconcat":[
{"width":544,"height":544,
"layer":[
{"data":{"values":[{"x":-15,"x2":15,"y":-15,"y2":15,"v":-0.000006}]},
"mark":{"type":"rect","clip":true},
"encoding":{"x":{"field":"x","type":"quantitative","scale":{"domain":[-15,15],"nice":false},"axis":{"zindex":1,"values":[-15,-10,-5,0,5,10,15],"title":"x (fm)","labelExpr":"''+datum.value","labelFontSize":27,"titleFontSize":28,"tickSize":-11,"labelPadding":37,"titlePadding":21,"domainWidth":1.2,"labelFlush":false}},
"x2":{"field":"x2"},
"y":{"field":"y","type":"quantitative","scale":{"domain":[-15,15],"nice":false},"axis":{"zindex":1,"values":[-15,-10,-5,0,5,10,15],"title":"y (fm)","labelExpr":"''+datum.value","labelFontSize":27,"titleFontSize":28,"tickSize":-11,"labelPadding":40,"labelOffset":-5,"titlePadding":7.5,"domainWidth":1.2,"labelFlush":false}},
"y2":{"field":"y2"},
"fill":{"field":"v","type":"quantitative","legend":null,"scale":{"interpolate":"rgb","domain":[-0.00014,-0.00012,-0.0001,-0.00006,-0.00002,-0.000006,0,0.0001,0.0002,0.0004,0.0006,0.00084],"range":["#0000ff","#0033ff","#0088ff","#00ffff","#c0ffff","#e8ffff","#ffffff","#ffe6c4","#ffcd80","#ffa500","#ff5000","#ff0000"]}}}},
{"data":{"name":"contours"},
"transform":[{"lookup":"c","from":{"data":{"name":"levels"},"key":"c","fields":["v"]}}],
"mark":{"type":"line","interpolate":"cardinal-closed","tension":0.4,"strokeWidth":0,"clip":true},
"encoding":{"x":{"field":"x","type":"quantitative","axis":null},"y":{"field":"y","type":"quantitative","axis":null},"detail":{"field":"c"},"order":{"value":null},
"fill":{"field":"v","type":"quantitative"}}},
{"data":{"values":[{"x":-11.25,"y":-11.8,"t":"= 5.8 MeV"},{"x":-11.25,"y":-13.3,"t":"= 0"},{"x":8.75,"y":-11.8,"t":"= 0"},{"x":8.75,"y":-13.3,"t":"= 5.4 fm"}]},
"mark":{"type":"text","align":"left","baseline":"middle","font":"Liberation Sans","fontSize":26,"color":"#804014"},
"encoding":{"x":{"field":"x","type":"quantitative","axis":null},"y":{"field":"y","type":"quantitative","axis":null},"text":{"field":"t"}}},
{"data":{"values":[{"x":-13.5,"y":-11.8,"t":"σ"},{"x":-13.5,"y":-13.3,"t":"σ"},{"x":7.4,"y":-11.8,"t":"η"},{"x":7.4,"y":-13.3,"t":"τ"}]},
"mark":{"type":"text","align":"left","baseline":"middle","font":"Liberation Serif","fontSize":28,"color":"#804014"},
"encoding":{"x":{"field":"x","type":"quantitative","axis":null},"y":{"field":"y","type":"quantitative","axis":null},"text":{"field":"t"}}},
{"data":{"values":[{"x":-12.5,"y":-13.7,"t":"χ"}]},
"mark":{"type":"text","align":"left","baseline":"middle","font":"Liberation Serif","fontSize":22,"color":"#804014"},
"encoding":{"x":{"field":"x","type":"quantitative","axis":null},"y":{"field":"y","type":"quantitative","axis":null},"text":{"field":"t"}}},
{"data":{"values":[{"x":0,"y":0}]},
"mark":{"type":"point","opacity":0},
"encoding":{"x":{"field":"x","type":"quantitative","axis":{"zindex":1,"orient":"top","values":[-15,-10,-5,0,5,10,15],"labels":false,"title":null,"tickSize":-11,"domainWidth":1.2}},"y":{"field":"y","type":"quantitative","axis":{"zindex":1,"orient":"right","values":[-15,-10,-5,0,5,10,15],"labels":false,"title":null,"tickSize":-11,"domainWidth":1.2}}}}
],
"resolve":{"axis":{"x":"independent","y":"independent"}}},
{"width":27,"height":544,
"data":{"values":[{"v":0.00082,"v2":0.000838},{"v":0.0008,"v2":0.00082},{"v":0.00078,"v2":0.0008},{"v":0.00076,"v2":0.00078},{"v":0.00074,"v2":0.00076},{"v":0.00072,"v2":0.00074},{"v":0.0007,"v2":0.00072},{"v":0.00068,"v2":0.0007},{"v":0.00066,"v2":0.00068},{"v":0.00064,"v2":0.00066},{"v":0.00062,"v2":0.00064},{"v":0.0006,"v2":0.00062},{"v":0.00058,"v2":0.0006},{"v":0.00056,"v2":0.00058},{"v":0.00054,"v2":0.00056},{"v":0.00052,"v2":0.00054},{"v":0.0005,"v2":0.00052},{"v":0.00048,"v2":0.0005},{"v":0.00046,"v2":0.00048},{"v":0.00044,"v2":0.00046},{"v":0.00042,"v2":0.00044},{"v":0.0004,"v2":0.00042},{"v":0.00038,"v2":0.0004},{"v":0.00036,"v2":0.00038},{"v":0.00034,"v2":0.00036},{"v":0.00032,"v2":0.00034},{"v":0.0003,"v2":0.00032},{"v":0.00028,"v2":0.0003},{"v":0.00026,"v2":0.00028},{"v":0.00024,"v2":0.00026},{"v":0.00022,"v2":0.00024},{"v":0.0002,"v2":0.00022},{"v":0.00018,"v2":0.0002},{"v":0.00016,"v2":0.00018},{"v":0.00014,"v2":0.00016},{"v":0.00012,"v2":0.00014},{"v":0.0001,"v2":0.00012},{"v":0.00008,"v2":0.0001},{"v":0.00006,"v2":0.00008},{"v":0.00004,"v2":0.00006},{"v":0.00002,"v2":0.00004},{"v":0,"v2":0.00002},{"v":-0.000008,"v2":0},{"v":-0.00002,"v2":-0.000008},{"v":-0.000035,"v2":-0.00002},{"v":-0.00005,"v2":-0.000035},{"v":-0.000065,"v2":-0.00005},{"v":-0.00008,"v2":-0.000065},{"v":-0.000095,"v2":-0.00008},{"v":-0.00011,"v2":-0.000095},{"v":-0.000125,"v2":-0.00011},{"v":-0.000138,"v2":-0.000125}]},
"layer":[
{"mark":{"type":"rect","strokeWidth":0.6},
"encoding":{"x":{"datum":0,"type":"quantitative","scale":{"domain":[0,1]},"axis":null},"x2":{"datum":1},"y":{"field":"v","type":"quantitative","scale":{"domain":[-0.00014,0.00084],"nice":false},"axis":{"zindex":1,"orient":"right","values":[-0.0001,0,0.0001,0.0002,0.0003,0.0004,0.0005,0.0006,0.0007,0.0008],"labelExpr":"''+datum.value","labelFontSize":27,"tickSize":-8,"labelPadding":33,"labelOffset":-5,"domainWidth":1.2,"labelFlush":false,"title":"[GeV/fm⁵]¹⁄²","titleFontSize":26,"titleAngle":270,"titleX":153,"titleY":286,"titleAlign":"center"}},"y2":{"field":"v2"},
"fill":{"field":"v","type":"quantitative","legend":null,"scale":{"interpolate":"rgb","domain":[-0.00014,-0.00012,-0.0001,-0.00006,-0.00002,-0.000006,0,0.0001,0.0002,0.0004,0.0006,0.00084],"range":["#0000ff","#0033ff","#0088ff","#00ffff","#c0ffff","#e8ffff","#ffffff","#ffe6c4","#ffcd80","#ffa500","#ff5000","#ff0000"]}},
"stroke":{"field":"v","type":"quantitative","legend":null,"scale":{"interpolate":"rgb","domain":[-0.00014,-0.00012,-0.0001,-0.00006,-0.00002,-0.000006,0,0.0001,0.0002,0.0004,0.0006,0.00084],"range":["#0000ff","#0033ff","#0088ff","#00ffff","#c0ffff","#e8ffff","#ffffff","#ffe6c4","#ffcd80","#ffa500","#ff5000","#ff0000"]}}}},
{"mark":{"type":"rect","opacity":0},
"encoding":{"x":{"datum":0,"type":"quantitative","axis":null},"x2":{"datum":1},"y":{"field":"v","type":"quantitative","axis":{"zindex":1,"orient":"left","values":[-0.0001,0,0.0001,0.0002,0.0003,0.0004,0.0005,0.0006,0.0007,0.0008],"labels":false,"title":null,"tickSize":-8,"domainWidth":1.2}},"y2":{"field":"v2"}}}
],
"resolve":{"axis":{"y":"independent"}}}
]
}
